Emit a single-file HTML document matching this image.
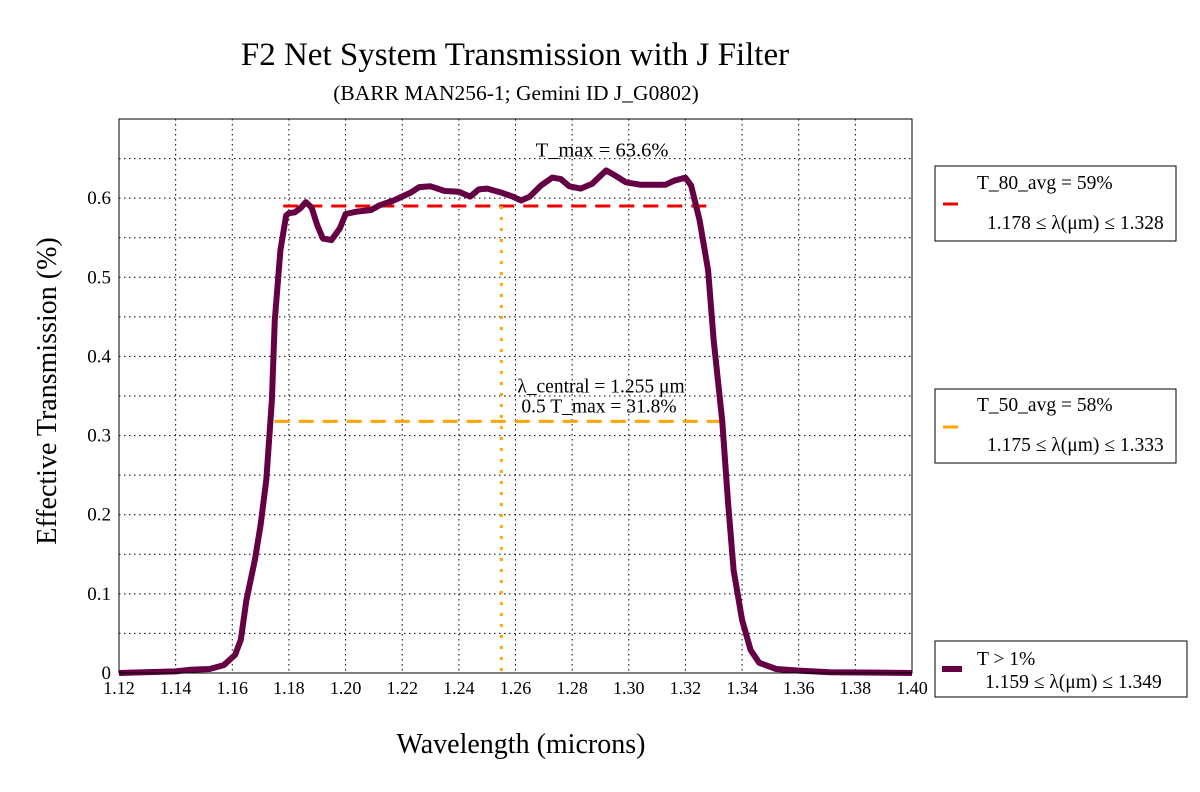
<!DOCTYPE html>
<html><head><meta charset="utf-8"><style>
body{margin:0;background:#fff}
svg{display:block;font-family:"Liberation Serif",serif}
</style></head><body>
<svg id="chart" width="1200" height="792" xmlns="http://www.w3.org/2000/svg">
<text x="515" y="65" font-size="33" text-anchor="middle">F2 Net System Transmission with J Filter</text>
<text x="516" y="100" font-size="21.5" text-anchor="middle">(BARR MAN256-1; Gemini ID J_G0802)</text>
<text x="521" y="753" font-size="28" text-anchor="middle">Wavelength (microns)</text>
<text transform="translate(56,391) rotate(-90)" font-size="28" text-anchor="middle">Effective Transmission (%)</text>
<g id="grid"></g>
<g id="ticks"></g>
<g id="marks"></g>
<rect x="119" y="119" width="793" height="554" fill="none" stroke="#000" stroke-width="1"/>
<g>
<rect x="935" y="166" width="241" height="75" fill="#fff" stroke="#000"/>
<line x1="943" y1="204" x2="958" y2="204" stroke="#e00" stroke-width="3"/>
<text x="977" y="189" font-size="19.5">T_80_avg = 59%</text>
<text x="987" y="229" font-size="19.5">1.178 ≤ λ(μm) ≤ 1.328</text>
</g>
<g>
<rect x="935" y="389" width="241" height="74" fill="#fff" stroke="#000"/>
<line x1="943" y1="427" x2="958" y2="427" stroke="orange" stroke-width="3"/>
<text x="977" y="411" font-size="19.5">T_50_avg = 58%</text>
<text x="987" y="451" font-size="19.5">1.175 ≤ λ(μm) ≤ 1.333</text>
</g>
<g>
<rect x="935" y="641" width="252" height="56" fill="#fff" stroke="#000"/>
<line x1="942" y1="669" x2="962" y2="669" stroke="#660044" stroke-width="6"/>
<text x="977" y="665" font-size="19.5">T &gt; 1%</text>
<text x="985" y="688" font-size="19.5">1.159 ≤ λ(μm) ≤ 1.349</text>
</g>
</svg>
<script>
const wavelengths=[1.12,1.14,1.145,1.152,1.157,1.161,1.163,1.165,1.168,1.17,1.172,1.174,1.175,1.177,1.179,1.18,1.182,1.184,1.186,1.188,1.19,1.192,1.195,1.198,1.2,1.204,1.209,1.212,1.217,1.223,1.226,1.23,1.235,1.24,1.244,1.247,1.25,1.255,1.259,1.262,1.265,1.269,1.273,1.276,1.279,1.283,1.287,1.292,1.295,1.299,1.304,1.313,1.316,1.32,1.322,1.325,1.328,1.33,1.333,1.335,1.337,1.34,1.343,1.346,1.352,1.36,1.371,1.40];
const transmission=[0,0.002,0.004,0.005,0.01,0.023,0.042,0.092,0.143,0.187,0.244,0.345,0.446,0.534,0.578,0.581,0.582,0.587,0.595,0.588,0.566,0.549,0.547,0.562,0.58,0.583,0.585,0.591,0.597,0.607,0.614,0.615,0.609,0.608,0.602,0.611,0.612,0.607,0.602,0.597,0.602,0.616,0.626,0.624,0.615,0.612,0.618,0.635,0.629,0.62,0.617,0.617,0.622,0.626,0.616,0.572,0.509,0.42,0.319,0.218,0.13,0.067,0.029,0.013,0.005,0.003,0.001,0];
const xTicks=[1.12,1.14,1.16,1.18,1.20,1.22,1.24,1.26,1.28,1.30,1.32,1.34,1.36,1.38,1.40];
const yTicks=[0,0.1,0.2,0.3,0.4,0.5,0.6];
const t80=[1.178,1.328,0.59];
const t50=[1.175,1.333,0.318];
const lambdaCentral=1.255;
const tMax=0.636;
const NS='http://www.w3.org/2000/svg';
const X=v=>119+(v-1.12)/0.28*793;
const Y=v=>673-v/0.7*554;
function mk(tag,attrs,parent){const e=document.createElementNS(NS,tag);for(const k in attrs)e.setAttribute(k,attrs[k]);parent.appendChild(e);return e;}
const grid=document.getElementById('grid'),ticks=document.getElementById('ticks'),marks=document.getElementById('marks');
for(let i=0;i<xTicks.length;i++){const x=X(xTicks[i]);
 if(i>0&&i<xTicks.length-1){const g=mk('line',{x1:x,x2:x,y1:119,y2:673,stroke:'#000','stroke-width':1,'stroke-dasharray':'1.5,3.5'},grid);
 
 }
 const t=mk('text',{x:x,y:694,'font-size':18,'text-anchor':'middle'},ticks);t.textContent=xTicks[i].toFixed(2);
 
 }
for(let v=0.05;v<0.7;v+=0.05){const y=Y(v);const g=mk('line',{x1:119,x2:912,y1:y,y2:y,stroke:'#000','stroke-width':1,'stroke-dasharray':'1.5,3.5'},grid);
 
 }
for(const v of yTicks){const t=mk('text',{x:111,y:Y(v)+6,'font-size':19,'text-anchor':'end'},ticks);t.textContent=v===0?'0':v.toFixed(1);
 
 }
const l80=mk('line',{x1:X(t80[0]),x2:X(t80[1]),y1:Y(t80[2]),y2:Y(t80[2]),stroke:'#e00','stroke-width':3,'stroke-dasharray':'15,9'},marks);


const l50=mk('line',{x1:X(t50[0]),x2:X(t50[1]),y1:Y(t50[2]),y2:Y(t50[2]),stroke:'orange','stroke-width':3,'stroke-dasharray':'15,9'},marks);


const lc=mk('line',{x1:X(lambdaCentral),x2:X(lambdaCentral),y1:Y(t80[2]),y2:673,stroke:'orange','stroke-width':3,'stroke-dasharray':'3,8'},marks);


const pts=wavelengths.map((w,i)=>X(w).toFixed(1)+','+Y(transmission[i]).toFixed(1)).join(' ');
const curve=mk('polyline',{points:pts,fill:'none',stroke:'#660044','stroke-width':6,'stroke-linejoin':'round'},marks);


const a1=mk('text',{x:602,y:Y(tMax)-13,'font-size':20.5,'text-anchor':'middle'},marks);a1.textContent='T_max = '+(tMax*100).toFixed(1)+'%';


const a2=mk('text',{x:601,y:Y(t50[2])-29,'font-size':19.5,'text-anchor':'middle'},marks);a2.textContent='λ_central = '+lambdaCentral.toFixed(3)+' μm';


const a3=mk('text',{x:599,y:Y(t50[2])-9,'font-size':19.5,'text-anchor':'middle'},marks);a3.textContent='0.5 T_max = '+(t50[2]*100).toFixed(1)+'%';


</script>
</body></html>
